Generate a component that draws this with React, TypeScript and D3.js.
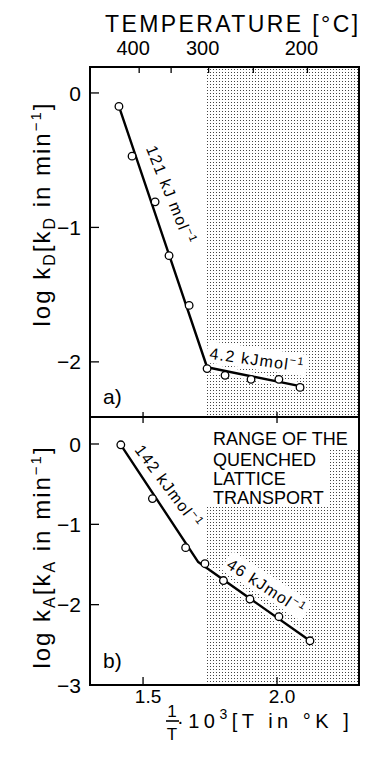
import React, { useEffect, useRef } from "react";
import * as d3 from "d3";

const W = 367;
const H = 757;

// Panel a) : log kD vs 1/T*10^3
const invT_A = [1.410, 1.459, 1.545, 1.597, 1.672, 1.739, 1.806, 1.903, 2.007, 2.086];
const logkD = [-0.10, -0.47, -0.81, -1.21, -1.58, -2.05, -2.10, -2.13, -2.13, -2.19];
const fitA_x = [1.410, 1.739, 2.086];
const fitA_y = [-0.10, -2.04, -2.18];

// Panel b) : log kA vs 1/T*10^3
const invT_B = [1.417, 1.535, 1.659, 1.731, 1.800, 1.899, 2.007, 2.123];
const logkA = [-0.01, -0.68, -1.29, -1.49, -1.70, -1.93, -2.15, -2.45];
const fitB_x = [1.417, 1.706, 2.123];
const fitB_y = [-0.01, -1.47, -2.45];

const xTicks = [1.5, 2.0];
const xTickLabels = ["1.5", "2.0"];
const celsiusTicks = [400, 350, 300, 250, 200];
const celsiusLabels = [400, 300, 200];
const yTicksA = [0, -1, -2];
const yTicksB = [0, -1, -2, -3];
const quenchStart = 1.737;

const rangeLines = ["RANGE OF THE", "QUENCHED", "LATTICE", "TRANSPORT"];

const annoA = [
  { text: "121 kJ mol", x: 1.603, y: -0.76, angle: 68, box: false },
  { text: "4.2 kJmol", x: 1.925, y: -1.985, angle: 8, box: true },
];
const annoB = [
  { text: "142 kJmol", x: 1.595, y: -0.53, angle: 53, box: false },
  { text: "46 kJmol", x: 1.959, y: -1.78, angle: 33, box: true },
];

export default function App() {
  const ref = useRef<SVGSVGElement>(null);

  useEffect(() => {
    const svg = d3.select(ref.current);
    svg.selectAll("*").remove();
    const font = "'Liberation Sans', Arial, sans-serif";
    const L = 90, R = 359, T = 67, M = 417, B = 685;

    const x = d3.scaleLinear().domain([1.302, 2.306]).range([L, R]);
    const yA = d3.scaleLinear().domain([-2.41, 0.193]).range([M, T]);
    const yB = d3.scaleLinear().domain([-3, 0.336]).range([B, M]);
    const cToX = (c: number) => x(1000 / (c + 273.15));

    const defs = svg.append("defs");
    const pat = defs
      .append("pattern")
      .attr("id", "dots")
      .attr("width", 3)
      .attr("height", 3)
      .attr("patternUnits", "userSpaceOnUse");
    pat.append("rect").attr("x", 0).attr("y", 0).attr("width", 1).attr("height", 1).attr("fill", "#444");

    svg.append("rect").attr("width", W).attr("height", H).attr("fill", "#fff");

    // shaded region
    svg
      .append("rect")
      .attr("x", x(quenchStart))
      .attr("y", T)
      .attr("width", R - x(quenchStart))
      .attr("height", B - T)
      .attr("fill", "url(#dots)");

    // white box behind "RANGE OF THE ..." text
    svg.append("rect").attr("x", x(quenchStart)).attr("y", M).attr("width", R - x(quenchStart)).attr("height", 33).attr("fill", "#fff");
    svg.append("rect").attr("x", x(quenchStart)).attr("y", M + 32).attr("width", 330 - x(quenchStart)).attr("height", 58).attr("fill", "#fff");

    const line = d3
      .line<[number, number]>()
      .x((d) => d[0])
      .y((d) => d[1]);

    const drawPanel = (
      y: d3.ScaleLinear<number, number>,
      xs: number[],
      ys: number[],
      fx: number[],
      fy: number[],
      annos: typeof annoA
    ) => {
      const annoGroups = annos.map((a) => {
        const g = svg
          .append("g")
          .attr("transform", `translate(${x(a.x)},${y(a.y)}) rotate(${a.angle})`);
        return { g, a };
      });
      const pts: [number, number][] = fx.map((v, i) => [x(v), y(fy[i])]);
      svg.append("path").attr("d", line(pts)).attr("fill", "none").attr("stroke", "#fff").attr("stroke-width", 8).attr("stroke-linejoin", "round");
      svg.append("path").attr("d", line(pts)).attr("fill", "none").attr("stroke", "#000").attr("stroke-width", 2.4).attr("stroke-linejoin", "round");
      svg
        .append("g")
        .selectAll("circle")
        .data(xs.map((v, i) => [v, ys[i]]))
        .join("circle")
        .attr("cx", (d) => x(d[0]))
        .attr("cy", (d) => y(d[1]))
        .attr("r", 3.8)
        .attr("fill", "#fff")
        .attr("stroke", "#000")
        .attr("stroke-width", 1.3);
      annoGroups.forEach(({ g, a }) => {
        const t = g
          .append("text")
          .attr("text-anchor", "middle")
          .attr("dy", "0.35em")
          .attr("font-family", font)
          .attr("font-size", 16)
          .attr("letter-spacing", 1.3)
          .text(a.text);
        t.append("tspan").attr("font-size", 11).attr("dy", "-0.6em").text("−1");
        if (a.box) {
          const bb = (t.node() as SVGTextElement).getBBox();
          g.insert("rect", "text")
            .attr("x", bb.x - 3)
            .attr("y", bb.y - 1)
            .attr("width", bb.width + 6)
            .attr("height", bb.height + 2)
            .attr("fill", "#fff");
        }
      });
    };

    drawPanel(yA, invT_A, logkD, fitA_x, fitA_y, annoA);
    drawPanel(yB, invT_B, logkA, fitB_x, fitB_y, annoB);

    // range text
    svg
      .append("g")
      .selectAll("text")
      .data(rangeLines)
      .join("text")
      .attr("x", 213)
      .attr("y", (_d, i) => [445, 466, 485, 504][i])
      .attr("font-family", font)
      .attr("font-size", 18)
      .text((d) => d);

    // frame
    const frame = svg.append("g").attr("stroke", "#000").attr("fill", "none");
    frame.append("rect").attr("x", L).attr("y", T).attr("width", R - L).attr("height", B - T).attr("stroke-width", 2);
    frame.append("line").attr("x1", L).attr("x2", R).attr("y1", M).attr("y2", M).attr("stroke-width", 2);

    // ticks
    const tickG = svg.append("g").attr("stroke", "#000").attr("stroke-width", 1.3);
    yTicksA.forEach((v) => tickG.append("line").attr("x1", L).attr("x2", L + 9).attr("y1", yA(v)).attr("y2", yA(v)));
    yTicksB.filter((v) => v > -3).forEach((v) => tickG.append("line").attr("x1", L).attr("x2", L + 9).attr("y1", yB(v)).attr("y2", yB(v)));
    xTicks.forEach((v) => {
      tickG.append("line").attr("x1", x(v)).attr("x2", x(v)).attr("y1", M - 5).attr("y2", M + 6);
      tickG.append("line").attr("x1", x(v)).attr("x2", x(v)).attr("y1", B - 8).attr("y2", B);
    });
    celsiusTicks.forEach((c) => tickG.append("line").attr("x1", cToX(c)).attr("x2", cToX(c)).attr("y1", T).attr("y2", T + 6));

    const labels = svg.append("g").attr("font-family", font).attr("fill", "#000");
    yTicksA.forEach((v) =>
      labels.append("text").attr("x", 81).attr("y", yA(v)).attr("dy", "0.36em").attr("text-anchor", "end").attr("font-size", 21).text(v === 0 ? "0" : "−" + Math.abs(v))
    );
    yTicksB.forEach((v) =>
      labels.append("text").attr("x", 81).attr("y", yB(v)).attr("dy", "0.36em").attr("text-anchor", "end").attr("font-size", 21).text(v === 0 ? "0" : "−" + Math.abs(v))
    );
    xTicks.forEach((v, i) =>
      labels.append("text").attr("x", x(v) + 5).attr("y", 703).attr("text-anchor", "middle").attr("font-size", 19).text(xTickLabels[i])
    );
    celsiusLabels.forEach((c) =>
      labels.append("text").attr("x", cToX(c) - 6).attr("y", 55).attr("text-anchor", "middle").attr("font-size", 20).text(String(c))
    );

    labels.append("text").attr("x", 105).attr("y", 32).attr("font-size", 23).attr("letter-spacing", 2.4).text("TEMPERATURE [°C]");

    labels.append("text").attr("x", 103).attr("y", 404).attr("font-size", 21).text("a)");
    labels.append("text").attr("x", 103).attr("y", 668).attr("font-size", 21).text("b)");

    // y axis titles
    const yTitle = (cy: number, sub: string) => {
      const t = labels
        .append("text")
        .attr("transform", `translate(50,${cy}) rotate(-90)`)
        .attr("text-anchor", "middle")
        .attr("font-size", 24)
        .attr("letter-spacing", 2);
      t.append("tspan").text("log k");
      t.append("tspan").attr("font-size", 16).attr("dy", 5).text(sub);
      t.append("tspan").attr("dy", -5).text("[k");
      t.append("tspan").attr("font-size", 16).attr("dy", 5).text(sub);
      t.append("tspan").attr("dy", -5).text(" in min");
      t.append("tspan").attr("font-size", 15).attr("dy", -9).text("−1");
      t.append("tspan").attr("dy", 9).text("]");
    };
    yTitle(214, "D");
    yTitle(557, "A");

    // x axis title
    labels.append("text").attr("x", 172).attr("y", 717).attr("text-anchor", "middle").attr("font-size", 17).text("1");
    svg.append("line").attr("x1", 166).attr("x2", 179).attr("y1", 721).attr("y2", 721).attr("stroke", "#000").attr("stroke-width", 1.6);
    labels.append("text").attr("x", 172).attr("y", 740).attr("text-anchor", "middle").attr("font-size", 17).text("T");
    const xt = labels.append("text").attr("x", 177).attr("y", 728).attr("font-size", 20).attr("letter-spacing", 4.5);
    xt.append("tspan").text("·10");
    xt.append("tspan").attr("font-size", 14).attr("dy", -9).text("3");
    xt.append("tspan").attr("dy", 9).text("[T in °K ]");
  }, []);

  return (
    <svg
      ref={ref}
      width={W}
      height={H}
      style={{ position: "absolute", left: 0, top: 0, background: "#fff" }}
    />
  );
}
